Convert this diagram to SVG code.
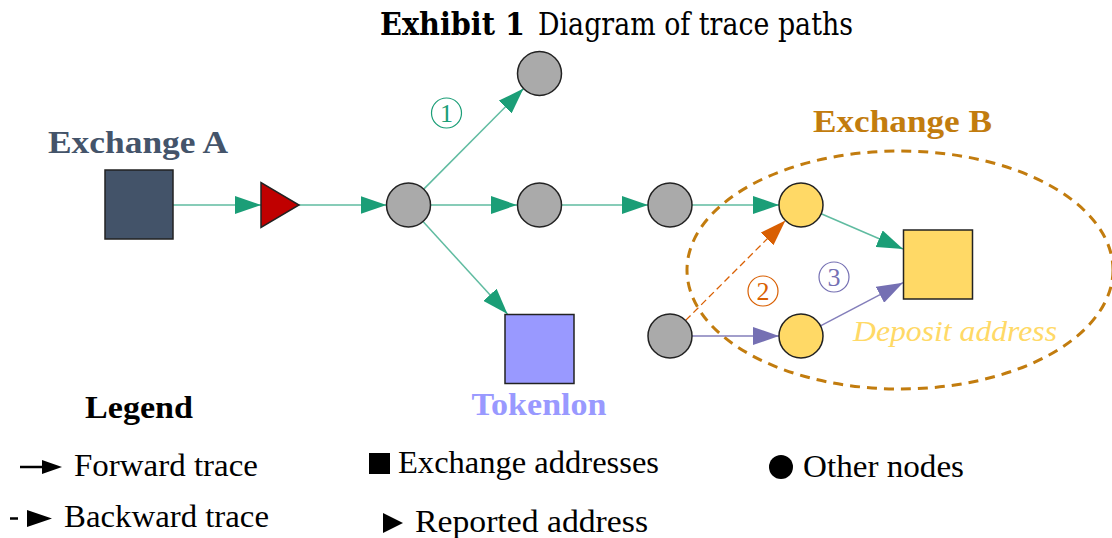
<svg xmlns="http://www.w3.org/2000/svg" width="1112" height="538" viewBox="0 0 1112 538" font-family="'Liberation Serif', 'Times New Roman', serif">
<style>
  .b { font-weight: bold; }
  .t32 { font-size: 32px; }
  .node { stroke: #222; stroke-width: 1.5; }
  .gray { fill: #AAAAAA; }
  .yel { fill: #FFD966; }
  .fg { stroke: #1B9E77; stroke-opacity: 0.7; stroke-width: 1.5; fill: none; marker-end: url(#ag); }
  .fp { stroke: #7570B3; stroke-opacity: 0.9; stroke-width: 1.5; fill: none; marker-end: url(#ap); }
  .fo { stroke: #D95F02; stroke-width: 1.3; stroke-dasharray: 7 4; fill: none; marker-end: url(#ao); }
  .num { fill: none; stroke-width: 1.2; }
  .numt { font-size: 26px; text-anchor: middle; }
</style>
<defs>
  <marker id="ag" markerUnits="userSpaceOnUse" markerWidth="26" markerHeight="18" refX="26" refY="9" orient="auto"><path d="M0,0 L26,9 L0,18 z" fill="#1B9E77"/></marker>
  <marker id="ap" markerUnits="userSpaceOnUse" markerWidth="26" markerHeight="18" refX="26" refY="9" orient="auto"><path d="M0,0 L26,9 L0,18 z" fill="#7570B3"/></marker>
  <marker id="ao" markerUnits="userSpaceOnUse" markerWidth="26" markerHeight="18" refX="26" refY="9" orient="auto"><path d="M0,0 L26,9 L0,18 z" fill="#D95F02"/></marker>
</defs>
<rect width="1112" height="538" fill="#FFFFFF"/>

<g id="title" font-family="'DejaVu Serif', serif">
  <text x="380" y="35" class="t32 b" textLength="145" lengthAdjust="spacingAndGlyphs">Exhibit 1</text>
  <text x="538" y="35" class="t32" textLength="315" lengthAdjust="spacingAndGlyphs">Diagram of trace paths</text>
</g>

<g id="exchangeB-region">
  <ellipse cx="900" cy="270" rx="213" ry="119" fill="none" stroke="#C27C0E" stroke-width="3" stroke-dasharray="10 7"/>
  <text x="813" y="132" class="t32 b" fill="#C27C0E" textLength="179" lengthAdjust="spacingAndGlyphs">Exchange B</text>
</g>

<g id="connectors">
  <line x1="173" y1="205" x2="261" y2="205" class="fg"/>
  <line x1="299" y1="205" x2="386.5" y2="205" class="fg"/>
  <line x1="423.5" y1="189.4" x2="523.5" y2="88.6" class="fg"/>
  <line x1="430" y1="205" x2="517" y2="205" class="fg"/>
  <line x1="422.8" y1="221.3" x2="507.5" y2="314" class="fg"/>
  <line x1="561" y1="205" x2="648" y2="205" class="fg"/>
  <line x1="692" y1="205" x2="779" y2="205" class="fg"/>
  <line x1="821.2" y1="213.8" x2="903" y2="249" class="fg"/>
  <line x1="692" y1="336" x2="779" y2="336" class="fp"/>
  <line x1="820.5" y1="325.8" x2="903" y2="282.7" class="fp"/>
  <line x1="685.6" y1="320.4" x2="785.4" y2="220.6" class="fo"/>
</g>

<g id="exchangeA">
  <rect x="105" y="170" width="68" height="69" fill="#435369" class="node"/>
  <text x="48" y="153" class="t32 b" fill="#44546A" textLength="180" lengthAdjust="spacingAndGlyphs">Exchange A</text>
</g>
<g id="reported">
  <polygon points="261,182.5 261,227.5 299,205" fill="#C00000" class="node"/>
</g>
<g id="n1"><circle cx="408.5" cy="205" r="22" class="node gray"/></g>
<g id="n2"><circle cx="539.5" cy="73.5" r="22" class="node gray"/></g>
<g id="n3"><circle cx="539.5" cy="205" r="22" class="node gray"/></g>
<g id="n4"><circle cx="670" cy="205" r="22" class="node gray"/></g>
<g id="n5"><circle cx="670" cy="336" r="22" class="node gray"/></g>
<g id="y1"><circle cx="801" cy="205" r="22" class="node yel"/></g>
<g id="y2"><circle cx="801" cy="336" r="22" class="node yel"/></g>
<g id="deposit">
  <rect x="903.5" y="230" width="69" height="69" class="node yel" stroke="#444"/>
  <text x="853" y="341" font-size="30" font-style="italic" fill="#FFD966" textLength="204" lengthAdjust="spacingAndGlyphs">Deposit address</text>
</g>
<g id="tokenlon">
  <rect x="505" y="314.5" width="69" height="69" fill="#9999FF" class="node"/>
  <text x="471.5" y="415" class="t32 b" fill="#9999FF" textLength="135" lengthAdjust="spacingAndGlyphs">Tokenlon</text>
</g>

<g id="labels">
  <circle cx="446.5" cy="113" r="15" class="num" stroke="#1B9E77"/>
  <text x="446.5" y="122" class="numt" fill="#1B9E77">1</text>
  <circle cx="763" cy="291" r="15" class="num" stroke="#D95F02"/>
  <text x="763" y="300" class="numt" fill="#D95F02">2</text>
  <circle cx="834" cy="277" r="15" class="num" stroke="#7570B3"/>
  <text x="834" y="286" class="numt" fill="#7570B3">3</text>
</g>

<g id="legend">
  <text x="85" y="418" class="t32 b" fill="#000" textLength="108" lengthAdjust="spacingAndGlyphs">Legend</text>
  <line x1="20" y1="467" x2="44" y2="467" stroke="#000" stroke-width="2.5"/>
  <polygon points="42,460 62,467 42,474" fill="#000"/>
  <text x="74" y="476" class="t32" textLength="184" lengthAdjust="spacingAndGlyphs">Forward trace</text>
  <line x1="10" y1="518.5" x2="18" y2="518.5" stroke="#000" stroke-width="2.5"/>
  <polygon points="27,510 52,518.5 27,527" fill="#000"/>
  <text x="64" y="527" class="t32" textLength="205" lengthAdjust="spacingAndGlyphs">Backward trace</text>
  <rect x="369" y="453" width="21" height="21" fill="#000"/>
  <text x="398" y="473" class="t32" textLength="261" lengthAdjust="spacingAndGlyphs">Exchange addresses</text>
  <polygon points="383,513 403,523 383,533" fill="#000"/>
  <text x="415" y="532" class="t32" textLength="233" lengthAdjust="spacingAndGlyphs">Reported address</text>
  <circle cx="781" cy="467" r="12" fill="#000"/>
  <text x="803" y="477" class="t32" textLength="161" lengthAdjust="spacingAndGlyphs">Other nodes</text>
</g>
</svg>
